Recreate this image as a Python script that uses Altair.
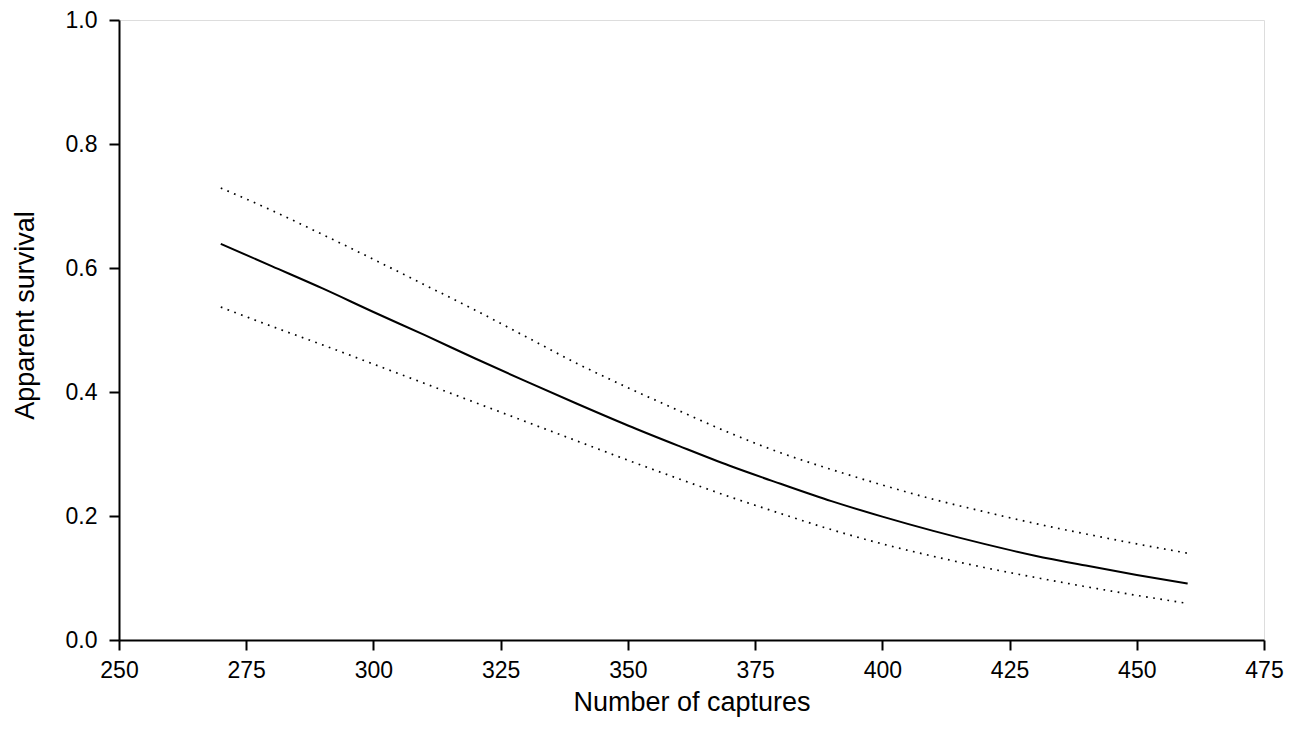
import altair as alt
import pandas as pd

captures = [270, 280, 290, 300, 310, 320, 330, 340, 350, 360, 370, 380, 390, 400, 410, 420, 430, 440, 450, 460]
survival = [0.639, 0.603, 0.567, 0.529, 0.492, 0.454, 0.417, 0.381, 0.346, 0.313, 0.281, 0.252, 0.224, 0.199, 0.176, 0.155, 0.136, 0.120, 0.105, 0.091]
upper_ci = [0.729, 0.693, 0.654, 0.614, 0.573, 0.532, 0.489, 0.446, 0.407, 0.370, 0.334, 0.302, 0.275, 0.250, 0.227, 0.207, 0.188, 0.171, 0.155, 0.140]
lower_ci = [0.537, 0.506, 0.476, 0.445, 0.414, 0.383, 0.352, 0.321, 0.290, 0.260, 0.231, 0.204, 0.178, 0.155, 0.135, 0.117, 0.101, 0.086, 0.072, 0.059]

x_ticks = [250, 275, 300, 325, 350, 375, 400, 425, 450, 475]
y_ticks = [0.0, 0.2, 0.4, 0.6, 0.8, 1.0]

df = pd.DataFrame({"captures": captures, "survival": survival, "upper": upper_ci, "lower": lower_ci})

FONT = "Liberation Sans"

x_enc = alt.X(
    "captures:Q",
    scale=alt.Scale(domain=[250, 475], nice=False, zero=False),
    axis=alt.Axis(
        values=x_ticks, title="Number of captures", format="d", grid=False,
        labelFlush=False, labelOverlap=False,
        labelFont=FONT, labelFontSize=23, labelColor="black", labelPadding=9,
        titleFont=FONT, titleFontSize=27, titleFontWeight="normal", titleColor="black", titlePadding=7,
        domainColor="black", domainWidth=2, tickColor="black", tickWidth=2, tickSize=10,
    ),
)


def y_enc(field):
    return alt.Y(
        f"{field}:Q",
        scale=alt.Scale(domain=[0, 1], nice=False),
        axis=alt.Axis(
            values=y_ticks, title="Apparent survival", format=".1f", grid=False,
            labelFlush=False, labelOverlap=False,
            labelFont=FONT, labelFontSize=23, labelColor="black", labelPadding=12,
            titleFont=FONT, titleFontSize=27, titleFontWeight="normal", titleColor="black", titlePadding=26,
            titleY=295,
            domainColor="black", domainWidth=2, tickColor="black", tickWidth=2, tickSize=10,
        ),
    )


base = alt.Chart(df)
main = base.mark_line(color="black", strokeWidth=2, interpolate="monotone").encode(x=x_enc, y=y_enc("survival"))
up = base.mark_line(color="black", strokeWidth=1.7, strokeDash=[1.7, 5.5], interpolate="monotone").encode(x=x_enc, y=y_enc("upper"))
lo = base.mark_line(color="black", strokeWidth=1.7, strokeDash=[1.7, 5.5], interpolate="monotone").encode(x=x_enc, y=y_enc("lower"))

chart = (
    alt.layer(up, lo, main)
    .properties(
        width=1145, height=620,
        autosize=alt.AutoSizeParams(type="none"),
        padding={"left": 111, "top": 12, "right": 30, "bottom": 100},
    )
    .configure_view(stroke=None)
    .configure(background="white")
)

chart.save("out.html", embed_options={"renderer": "svg", "actions": False})
